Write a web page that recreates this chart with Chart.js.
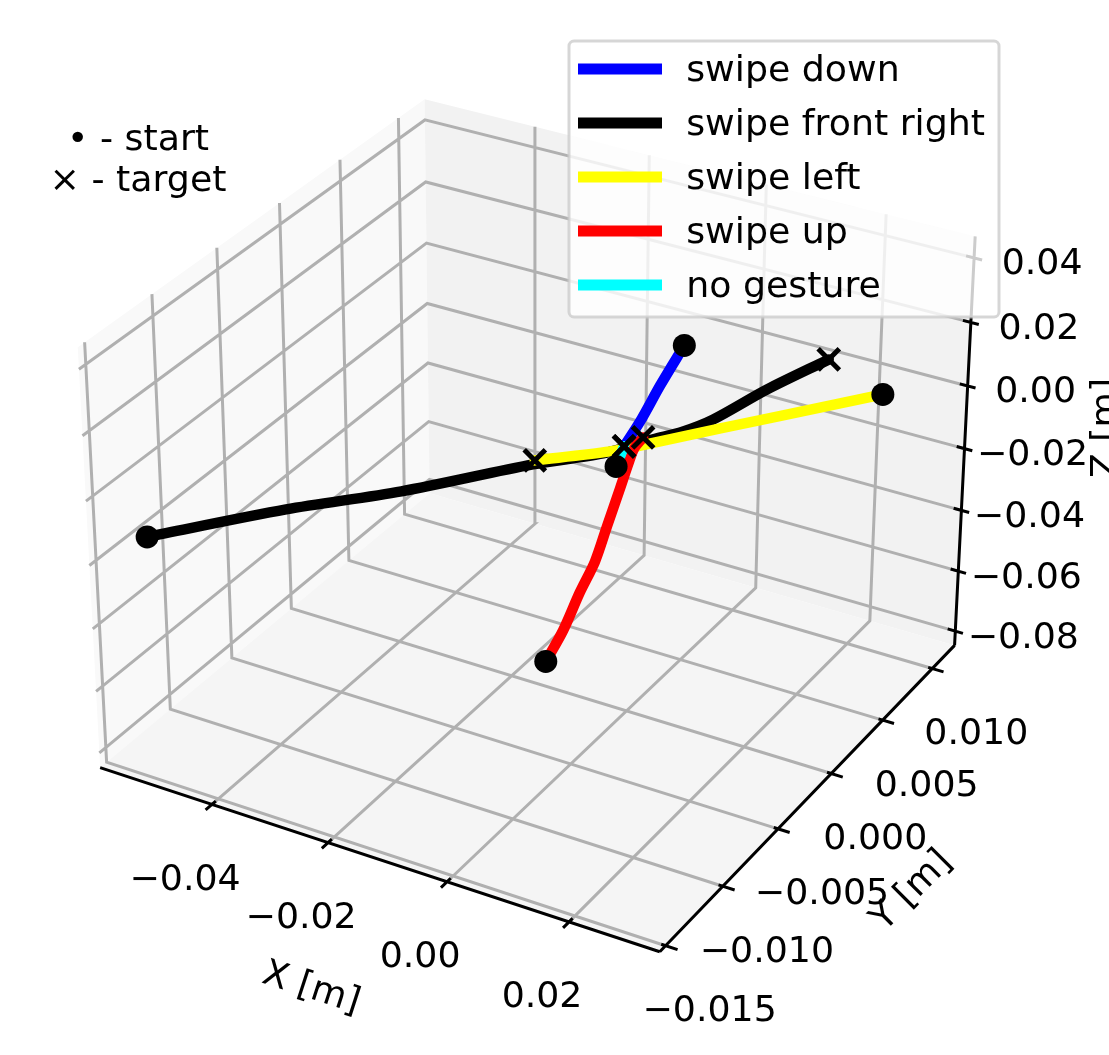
<!DOCTYPE html>
<html>
<head>
<meta charset="utf-8">
<title>Gesture trajectories</title>
<style>
  html, body { margin: 0; padding: 0; background: #fff; }
  canvas { display: block; }
</style>
<script src="https://cdn.jsdelivr.net/npm/chart.js@4"></script>
</head>
<body>
<canvas id="chart" width="1109" height="1055"></canvas>
<script>
// Axis limits and ticks, in metres
const xLimits = [-0.05974, 0.03456];
const yLimits = [-0.0155, 0.0123];
const zLimits = [-0.0848, 0.0466];
const xTicks = [-0.04, -0.02, 0, 0.02];
const yTicks = [-0.015, -0.01, -0.005, 0, 0.005, 0.01];
const zTicks = [-0.08, -0.06, -0.04, -0.02, 0, 0.02, 0.04];
const xTickLabels = ['−0.04', '−0.02', '0.00', '0.02'];
const yTickLabels = ['−0.015', '−0.010', '−0.005', '0.000', '0.005', '0.010'];
const zTickLabels = ['−0.08', '−0.06', '−0.04', '−0.02', '0.00', '0.02', '0.04'];

// Trajectories
const gestureNames = ['swipe down', 'swipe front right', 'swipe left', 'swipe up', 'no gesture'];
const gestureColors = ['#0000ff', '#000000', '#ffff00', '#ff0000', '#00ffff'];

const swipeDownX = [0.01186, 0.00716, 0.00285, -0.00088];
const swipeDownY = [-0.0017, -0.0012, -0.0006, 0];
const swipeDownZ = [0.04241, 0.0265, 0.01146, -0.00006];

const swipeFrontRightX = [-0.05726, -0.03917, -0.02429, -0.00763, 0.00128, 0.00761, 0.01072, 0.0149, 0.02339, 0.02934];
const swipeFrontRightY = [-0.0122, -0.0094, -0.0071, -0.0044, -0.003, -0.002, -0.0011, -0.0007, -0.0007, 0.0015];
const swipeFrontRightZ = [-0.02029, -0.01078, -0.00443, 0.00435, 0.00811, 0.01267, 0.01389, 0.01852, 0.03196, 0.03754];

const swipeLeftX = [0.03144, 0.01685, 0.00819, -0.00157, -0.00792, -0.01789];
const swipeLeftY = [0.0056, 0.0045, 0.0038, 0.003, 0.0025, 0.001];
const swipeLeftZ = [0.01578, 0.00497, -0.00131, -0.00851, -0.013, -0.01647];

const swipeUpX = [-0.01499, -0.01489, -0.012, -0.00941, -0.00701, -0.00447, -0.00278, -0.00143, 0.00042];
const swipeUpY = [0.0005, 0.002, 0.002, 0.002, 0.0018, 0.0016, 0.0014, 0.0012, 0.001];
const swipeUpZ = [-0.0788, -0.07353, -0.05929, -0.04773, -0.03434, -0.02015, -0.01101, -0.00465, 0.00037];

const noGestureX = [-0.00031, -0.00088];
const noGestureY = [-0.001, 0];
const noGestureZ = [-0.00293, -0.00006];

const gestureX = [swipeDownX, swipeFrontRightX, swipeLeftX, swipeUpX, noGestureX];
const gestureY = [swipeDownY, swipeFrontRightY, swipeLeftY, swipeUpY, noGestureY];
const gestureZ = [swipeDownZ, swipeFrontRightZ, swipeLeftZ, swipeUpZ, noGestureZ];

// Same camera as a default matplotlib 3D axes: elev 30, azim -60, dist 10
const boxSize = [1.3073, 1.3073, 0.9805];
const camU = [0.8660254, 0.5, 0];
const camV = [-0.25, 0.4330127, 0.8660254];
const camW = [0.4330127, -0.75, 0.5];
const cameraDist = 10;

const dot = (a, b) => a[0] * b[0] + a[1] * b[1] + a[2] * b[2];

function project(x, y, z) {
    const q = [
        ((x - xLimits[0]) / (xLimits[1] - xLimits[0]) - 0.5) * boxSize[0],
        ((y - yLimits[0]) / (yLimits[1] - yLimits[0]) - 0.5) * boxSize[1],
        ((z - zLimits[0]) / (zLimits[1] - zLimits[0]) - 0.5) * boxSize[2]
    ];
    const depth = cameraDist - dot(camW, q);
    return { x: dot(camU, q) / depth, y: dot(camV, q) / depth };
}

// Polylines in data space, with a gap between each of them
function polylines(lines) {
    const points = [];
    lines.forEach(line => {
        line.forEach(p => points.push(project(p[0], p[1], p[2])));
        points.push({ x: NaN, y: NaN });
    });
    return points;
}

const [x0, x1] = xLimits;
const [y0, y1] = yLimits;
const [z0, z1] = zLimits;

const gridLines = [
    ...xTicks.map(t => [[t, y0, z0], [t, y1, z0], [t, y1, z1]]),
    ...yTicks.map(t => [[x1, t, z0], [x0, t, z0], [x0, t, z1]]),
    ...zTicks.map(t => [[x0, y0, t], [x0, y1, t], [x1, y1, t]])
];

const axisLines = [
    [[x0, y0, z0], [x1, y0, z0]],
    [[x1, y0, z0], [x1, y1, z0]],
    [[x1, y1, z0], [x1, y1, z1]],
    ...xTicks.map(t => [[t, y0 + 0.0003, z0], [t, y0 - 0.0005, z0]]),
    ...yTicks.map(t => [[x1 - 0.0007, t, z0], [x1 + 0.0019, t, z0]]),
    ...zTicks.map(t => [[x1 - 0.0013, y1, t], [x1 + 0.0013, y1, t]])
];

const panes = [
    { color: '#f9f9f9', corners: [[x0, y0, z0], [x0, y1, z0], [x0, y1, z1], [x0, y0, z1]] },
    { color: '#f2f2f2', corners: [[x0, y1, z0], [x1, y1, z0], [x1, y1, z1], [x0, y1, z1]] },
    { color: '#f5f5f5', corners: [[x0, y0, z0], [x1, y0, z0], [x1, y1, z0], [x0, y1, z0]] }
];

const gestureDatasets = gestureNames.map((name, i) => ({
    label: name,
    data: gestureX[i].map((x, k) => project(x, gestureY[i][k], gestureZ[i][k])),
    showLine: true,
    tension: 0.3,
    borderColor: gestureColors[i],
    backgroundColor: gestureColors[i],
    borderWidth: 10.5,
    borderCapStyle: 'round',
    borderJoinStyle: 'round',
    pointRadius: 0,
    // black at the bottom, the others over it
    order: i === 1 ? 8 : 7 - i
}));

const datasets = [
    ...gestureDatasets,
    {
        label: 'start',
        data: gestureX.map((xs, i) => project(xs[0], gestureY[i][0], gestureZ[i][0])),
        pointStyle: 'circle',
        pointRadius: 11.5,
        pointBorderWidth: 0,
        pointBackgroundColor: '#000',
        order: 0
    },
    {
        label: 'target',
        data: gestureX.map((xs, i) => {
            const last = xs.length - 1;
            return project(xs[last], gestureY[i][last], gestureZ[i][last]);
        }),
        pointStyle: 'crossRot',
        pointRadius: 15,
        pointBorderWidth: 5,
        pointBorderColor: '#000',
        order: 1
    },
    {
        label: 'axes',
        data: polylines(axisLines),
        showLine: true,
        borderColor: '#000',
        borderWidth: 3,
        pointRadius: 0,
        order: 9
    },
    {
        label: 'grid',
        data: polylines(gridLines),
        showLine: true,
        borderColor: '#b0b0b0',
        borderWidth: 3,
        pointRadius: 0,
        order: 10
    }
];

const FONT = '36.3px "DejaVu Sans"';
// canvas "middle" sits a little above where matplotlib centres its text
const TEXT_DROP = 3;

function drawText(ctx, text, px, py, angle) {
    ctx.save();
    ctx.translate(px, py);
    if (angle) ctx.rotate(angle * Math.PI / 180);
    ctx.fillText(text, 0, TEXT_DROP);
    ctx.restore();
}

// Panes behind everything; tick labels and notes over the marks; legend on top
const axes3dPlugin = {
    id: 'axes3d',
    afterInit(chart) {
        const legend = chart.legend;
        legend._layers = () => [{
            z: 10,
            draw(area) {
                const ctx = chart.ctx;
                ctx.save();
                ctx.beginPath();
                ctx.roundRect(569, 41, 430, 276, 5);
                ctx.fillStyle = 'rgba(255,255,255,0.8)';
                ctx.fill();
                ctx.lineWidth = 3;
                ctx.strokeStyle = 'rgba(204,204,204,0.8)';
                ctx.stroke();
                ctx.restore();
                // legend text only, the handles are already in place
                const fillText = ctx.fillText;
                ctx.fillText = (text, x, y) => fillText.call(ctx, text, x, y + TEXT_DROP);
                legend.draw(area);
                delete ctx.fillText;
            }
        }];
    },
    afterLayout(chart) {
        const legend = chart.legend;
        legend.left = 560.3;
        legend.top = 33.2;
        legend.right = 1000;
        legend.bottom = 340;
    },
    beforeDatasetsDraw(chart) {
        const { ctx, scales } = chart;
        ctx.save();
        panes.forEach(pane => {
            ctx.beginPath();
            pane.corners.forEach(c => {
                const p = project(c[0], c[1], c[2]);
                ctx.lineTo(scales.x.getPixelForValue(p.x), scales.y.getPixelForValue(p.y));
            });
            ctx.closePath();
            ctx.fillStyle = pane.color;
            ctx.fill();
        });
        ctx.restore();
    },
    afterDatasetsDraw(chart) {
        const { ctx, scales } = chart;
        const pixel = (x, y, z) => {
            const p = project(x, y, z);
            return [scales.x.getPixelForValue(p.x), scales.y.getPixelForValue(p.y)];
        };
        ctx.save();
        ctx.font = FONT;
        ctx.fillStyle = '#000';
        ctx.textAlign = 'center';
        ctx.textBaseline = 'middle';

        xTicks.forEach((t, i) => {
            const [px, py] = pixel(t, y0, z0);
            drawText(ctx, xTickLabels[i], px - 27, py + 73);
        });
        yTicks.forEach((t, i) => {
            const [px, py] = pixel(x1, t, z0);
            drawText(ctx, yTickLabels[i], px + 44, py + 63);
        });
        zTicks.forEach((t, i) => {
            const [px, py] = pixel(x1, y1, t);
            drawText(ctx, zTickLabels[i], px + 68, py + 4);
        });

        drawText(ctx, 'X [m]', 312, 986, 18);
        drawText(ctx, 'Y [m]', 910, 889, -45);
        drawText(ctx, 'Z [m]', 1104, 428, -90);

        drawText(ctx, '• - start', 138, 138);
        drawText(ctx, '× - target', 138, 179);
        ctx.restore();
    }
};

Chart.defaults.font.family = '"DejaVu Sans"';

new Chart(document.getElementById('chart').getContext('2d'), {
    type: 'scatter',
    data: { datasets },
    plugins: [axes3dPlugin],
    options: {
        responsive: false,
        animation: false,
        devicePixelRatio: 1,
        events: [],
        clip: false,
        layout: { padding: 0, autoPadding: false },
        scales: {
            // view coordinates of the camera, fitted to the canvas
            x: { type: 'linear', display: false, min: -0.10939, max: 0.11694 },
            y: { type: 'linear', display: false, min: -0.11311, max: 0.10307 }
        },
        plugins: {
            tooltip: { enabled: false },
            title: { display: false },
            legend: {
                display: true,
                position: 'chartArea',
                align: 'start',
                labels: {
                    boxWidth: 84,
                    boxHeight: 11,
                    padding: 17.7,
                    color: '#000',
                    font: { size: 36.3, family: '"DejaVu Sans"' },
                    generateLabels(chart) {
                        // U+2006 makes up the gap between handle and text
                        return gestureNames.map((name, i) => ({
                            text: '\u2006' + name,
                            fillStyle: gestureColors[i],
                            strokeStyle: gestureColors[i],
                            lineWidth: 0,
                            datasetIndex: i
                        }));
                    }
                }
            }
        }
    }
});
</script>
</body>
</html>
